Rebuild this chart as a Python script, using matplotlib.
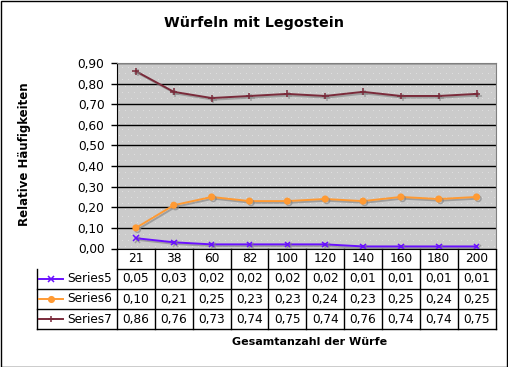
import numpy as np
import matplotlib
matplotlib.use("Agg")
import matplotlib.pyplot as plt
import matplotlib.patheffects as pe
from matplotlib.lines import Line2D

# Daten aus der Tabelle unter dem Diagramm
wuerfe = ["21", "38", "60", "82", "100", "120", "140", "160", "180", "200"]
series5 = [0.05, 0.03, 0.02, 0.02, 0.02, 0.02, 0.01, 0.01, 0.01, 0.01]
series6 = [0.10, 0.21, 0.25, 0.23, 0.23, 0.24, 0.23, 0.25, 0.24, 0.25]
series7 = [0.86, 0.76, 0.73, 0.74, 0.75, 0.74, 0.76, 0.74, 0.74, 0.75]
namen = ["Series5", "Series6", "Series7"]
y_ticks = [0.0, 0.1, 0.2, 0.3, 0.4, 0.5, 0.6, 0.7, 0.8, 0.9]

farben = ["#6A10FF", "#FF9A33", "#7A2A3A"]
marker = ["x", "o", "+"]
groesse = [4, 4, 5]

W, H = 508, 367
fig = plt.figure(figsize=(W / 100, H / 100), dpi=100)
fig.patch.set_facecolor("white")
# Rahmen um das ganze Bild
fig.add_artist(plt.Rectangle((0.5 / W, 0.5 / H), 1 - 1.5 / W, 1 - 1.5 / H,
                             transform=fig.transFigure, fill=False,
                             edgecolor="black", lw=1))

links, rechts, oben, unten = 117, 495.5, 63, 248.5
ax = fig.add_axes([links / W, 1 - unten / H, (rechts - links) / W, (unten - oben) / H])
ax.set_facecolor("#CBCBCB")

x = np.arange(len(wuerfe))
ax.set_xlim(-0.5, len(wuerfe) - 0.5)
ax.set_ylim(0, 0.9)
ax.set_yticks(y_ticks)
ax.set_yticklabels([f"{v:.2f}".replace(".", ",") for v in y_ticks], fontsize=8.7)
ax.yaxis.grid(True, color="black", lw=1)
ax.set_axisbelow(True)
ax.tick_params(axis="y", length=4, width=1, pad=5)
ax.tick_params(axis="x", length=0, labelbottom=False)
for s in ["top", "right"]:
    ax.spines[s].set_color("#808080")
ax.spines["left"].set_color("black")
ax.spines["bottom"].set_color("black")

# weisse Punkte im Hintergrund (Excel-Muster)
px, py = np.meshgrid(np.arange(-0.45, 9.5, 0.16), np.arange(0.01, 0.9, 0.03))
px[1::2] += 0.08
ax.scatter(px.ravel(), py.ravel(), s=0.6, c="#E2E2E2", lw=0, zorder=0.5)

schatten = [pe.SimpleLineShadow(offset=(1.2, -1.2), shadow_color="#808080", alpha=0.6),
            pe.Normal()]
for werte, farbe, m, g in zip([series5, series6, series7], farben, marker, groesse):
    ax.plot(x, werte, color=farbe, lw=1.4, marker=m, ms=g, mew=1.1,
            mfc=farbe, mec=farbe, path_effects=schatten, zorder=3)

# Datentabelle
zeile = 20.2 / (unten - oben) * 0.9  # Zeilenhöhe in Datenkoordinaten
spalte = (rechts - links) / 10
trans = ax.transData
lk = dict(color="black", lw=1, clip_on=False, transform=trans)
tabelle_unten = -zeile * 4
spalte_links = -0.5 - (links - 37) / spalte
for i in range(len(wuerfe) + 1):
    ax.add_line(Line2D([i - 0.5, i - 0.5], [0, tabelle_unten], **lk))
for r in range(1, 5):
    ax.add_line(Line2D([spalte_links if r > 1 else -0.5, 9.5],
                       [-zeile * r, -zeile * r], **lk))
ax.add_line(Line2D([spalte_links, spalte_links], [-zeile, tabelle_unten], **lk))

for i, w in enumerate(wuerfe):
    ax.text(i, -zeile * 0.5, w, ha="center", va="center", fontsize=8.7, clip_on=False)
for r, (name, werte, farbe, m, g) in enumerate(zip(namen, [series5, series6, series7],
                                                   farben, marker, groesse), start=1):
    yy = -zeile * (r + 0.5)
    for i, v in enumerate(werte):
        ax.text(i, yy, f"{v:.2f}".replace(".", ","), ha="center", va="center",
                fontsize=8.7, clip_on=False)
    x0 = spalte_links + 1.5 / spalte
    x1 = spalte_links + 26 / spalte
    ax.add_line(Line2D([x0, x1], [yy, yy], color=farbe, lw=1.4,
                       clip_on=False, transform=trans))
    ax.add_line(Line2D([(x0 + x1) / 2], [yy], color=farbe, marker=m, ms=g, mew=1.1,
                       mfc=farbe, mec=farbe, clip_on=False, transform=trans))
    ax.text(spalte_links + 30 / spalte, yy, name, ha="left", va="center",
            fontsize=8.7, clip_on=False)

fig.text(254 / W, 1 - 23 / H, "Würfeln mit Legostein", ha="center", va="center",
         fontsize=10.3, fontweight="bold")
fig.text(25 / W, 1 - 154 / H, "Relative Häufigkeiten", ha="center", va="center",
         rotation=90, fontsize=8.5, fontweight="bold")
fig.text(310 / W, 1 - 342 / H, "Gesamtanzahl der Würfe", ha="center", va="center",
         fontsize=8, fontweight="bold")

fig.savefig("out.png", dpi=100)
